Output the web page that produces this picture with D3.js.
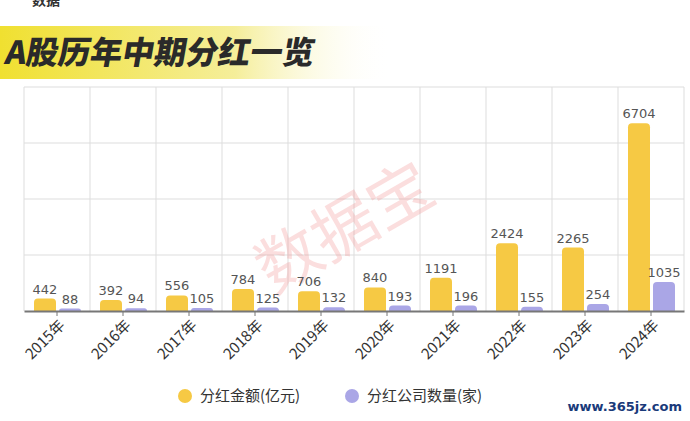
<!DOCTYPE html><html><head><meta charset="utf-8"><script src="https://cdn.jsdelivr.net/npm/d3@7"></script>
<style>body{margin:0;background:#fff}</style></head><body><svg id="c" width="690" height="421"></svg>
<script>
const years=["2015年","2016年","2017年","2018年","2019年","2020年","2021年","2022年","2023年","2024年"];
const amount=[442,392,556,784,706,840,1191,2424,2265,6704];
const count=[88,94,105,125,132,193,196,155,254,1035];
const yTicks=[0,2000,4000,6000,8000];
const svg=d3.select("#c");
const f="'Noto Sans CJK SC','Noto Sans',sans-serif";
const defs=svg.append("defs");
const g=defs.append("linearGradient").attr("id","tg");
g.append("stop").attr("offset","0").attr("stop-color","#f0e030");
g.append("stop").attr("offset","0.6").attr("stop-color","#f5ee9a");
g.append("stop").attr("offset","1").attr("stop-color","#fff").attr("stop-opacity",0);
svg.append("rect").attr("x",0).attr("y",26).attr("width",392).attr("height",53).attr("fill","url(#tg)");
svg.append("text").attr("x",4).attr("y",64).attr("font-family",f).attr("font-weight",900).attr("font-size",32).attr("fill","#2a2a2a").attr("transform","skewX(-10) translate(11,0)").text("A股历年中期分红一览");
svg.append("text").attr("x",32).attr("y",5).attr("font-family",f).attr("font-size",14).attr("font-weight",700).attr("fill","#333").text("数据");
const x=d3.scaleBand().domain(years).range([24,684]);
const y=d3.scaleLinear().domain([0,8000]).range([311,87]);
svg.append("g").selectAll("line").data(yTicks.slice(1)).join("line").attr("x1",24).attr("x2",684).attr("y1",d=>y(d)).attr("y2",d=>y(d)).attr("stroke","#ddd");
svg.append("g").selectAll("line").data(years.concat(["end"])).join("line").attr("x1",(d,i)=>24+i*x.bandwidth()).attr("x2",(d,i)=>24+i*x.bandwidth()).attr("y1",87).attr("y2",311).attr("stroke","#ddd");
svg.append("text").attr("x",345).attr("y",250).attr("text-anchor","middle").attr("font-family",f).attr("font-size",64).attr("fill","#f28a8a").attr("opacity",0.28).attr("transform","rotate(-30,345,228)").text("数据宝");
function bar(data,off,color){
 const bw=22;
 svg.append("g").selectAll("path").data(data).join("path").attr("fill",color).attr("d",(d,i)=>{
  const x0=x(years[i])+off,y0=y(d),h=311-y0,r=Math.min(4,h);
  return `M${x0},311V${y0+r}Q${x0},${y0} ${x0+r},${y0}H${x0+bw-r}Q${x0+bw},${y0} ${x0+bw},${y0+r}V311Z`;});
 svg.append("g").selectAll("text").data(data).join("text").attr("x",(d,i)=>x(years[i])+off+bw/2).attr("y",d=>y(d)-5).attr("text-anchor","middle").attr("font-family","'DejaVu Sans',sans-serif").attr("font-size",13).attr("fill","#555").text(d=>d);
}
bar(amount,10,"#f6c944");
bar(count,35,"#aaa6e6");
const ax=svg.append("g").attr("transform","translate(0,311)").call(d3.axisBottom(x).tickSize(5).tickSizeOuter(0));
ax.select(".domain").attr("stroke","#777").attr("stroke-width",2);
ax.selectAll(".tick line").attr("stroke","#777");
ax.selectAll("text").attr("font-family",f).attr("font-size",15).attr("fill","#333").attr("text-anchor","end").attr("transform","rotate(-45)").attr("dx","-0.3em").attr("dy","0.6em");
const lg=[["分红金额(亿元)","#f6c944",185],["分红公司数量(家)","#aaa6e6",352]];
lg.forEach(([t,c,lx])=>{svg.append("circle").attr("cx",lx).attr("cy",396).attr("r",7).attr("fill",c);
svg.append("text").attr("x",lx+15).attr("y",401).attr("font-family",f).attr("font-size",15).attr("fill","#333").text(t);});
svg.append("text").attr("x",682).attr("y",411).attr("text-anchor","end").attr("font-family","'DejaVu Sans',sans-serif").attr("font-weight",700).attr("font-size",13).attr("fill","#1a3a7a").text("www.365jz.com");
</script></body></html>
